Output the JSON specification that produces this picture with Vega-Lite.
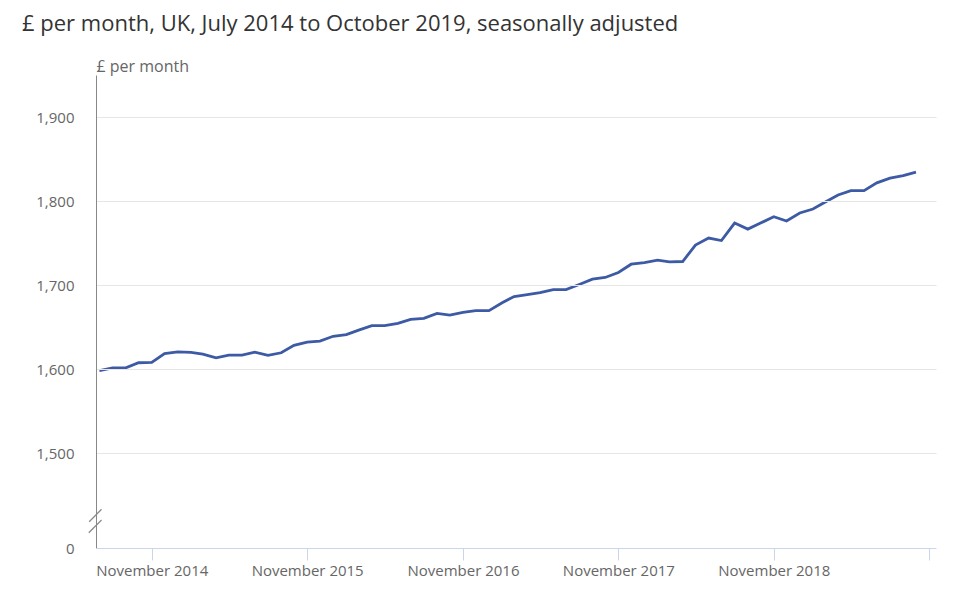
{
  "$schema": "https://vega.github.io/schema/vega-lite/v6.json",
  "autosize": {"type": "none"},
  "width": 840,
  "height": 473,
  "padding": {"left": 96, "top": 75, "right": 24, "bottom": 56},
  "background": "white",
  "title": {
    "text": "£ per month, UK, July 2014 to October 2019, seasonally adjusted",
    "anchor": "start",
    "frame": "group",
    "dx": -74,
    "offset": 22,
    "font": "Open Sans",
    "fontSize": 22,
    "fontWeight": "normal",
    "color": "#333333"
  },
  "config": {
    "view": {"stroke": null},
    "font": "Open Sans"
  },
  "datasets": {
    "earnings": [
      {"date": "2014-07-01", "value": 1598},
      {"date": "2014-08-01", "value": 1601.5},
      {"date": "2014-09-01", "value": 1601.5},
      {"date": "2014-10-01", "value": 1607.5},
      {"date": "2014-11-01", "value": 1608},
      {"date": "2014-12-01", "value": 1618.5},
      {"date": "2015-01-01", "value": 1620.5},
      {"date": "2015-02-01", "value": 1619.8},
      {"date": "2015-03-01", "value": 1617.8},
      {"date": "2015-04-01", "value": 1613.4},
      {"date": "2015-05-01", "value": 1616.6},
      {"date": "2015-06-01", "value": 1616.6},
      {"date": "2015-07-01", "value": 1620},
      {"date": "2015-08-01", "value": 1616.2},
      {"date": "2015-09-01", "value": 1619.4},
      {"date": "2015-10-01", "value": 1628.3},
      {"date": "2015-11-01", "value": 1632},
      {"date": "2015-12-01", "value": 1633.3},
      {"date": "2016-01-01", "value": 1639},
      {"date": "2016-02-01", "value": 1641},
      {"date": "2016-03-01", "value": 1646.4},
      {"date": "2016-04-01", "value": 1651.6},
      {"date": "2016-05-01", "value": 1651.6},
      {"date": "2016-06-01", "value": 1654.4},
      {"date": "2016-07-01", "value": 1659.2},
      {"date": "2016-08-01", "value": 1660.4},
      {"date": "2016-09-01", "value": 1666.3},
      {"date": "2016-10-01", "value": 1664.3},
      {"date": "2016-11-01", "value": 1667.5},
      {"date": "2016-12-01", "value": 1669.5},
      {"date": "2017-01-01", "value": 1669.5},
      {"date": "2017-02-01", "value": 1679},
      {"date": "2017-03-01", "value": 1686.3},
      {"date": "2017-04-01", "value": 1688.6},
      {"date": "2017-05-01", "value": 1691},
      {"date": "2017-06-01", "value": 1694.6},
      {"date": "2017-07-01", "value": 1694.6},
      {"date": "2017-08-01", "value": 1700.6},
      {"date": "2017-09-01", "value": 1707},
      {"date": "2017-10-01", "value": 1709},
      {"date": "2017-11-01", "value": 1715},
      {"date": "2017-12-01", "value": 1724.8},
      {"date": "2018-01-01", "value": 1726.8},
      {"date": "2018-02-01", "value": 1729.6},
      {"date": "2018-03-01", "value": 1727.6},
      {"date": "2018-04-01", "value": 1728},
      {"date": "2018-05-01", "value": 1747.5},
      {"date": "2018-06-01", "value": 1755.9},
      {"date": "2018-07-01", "value": 1753},
      {"date": "2018-08-01", "value": 1773.8},
      {"date": "2018-09-01", "value": 1766.6},
      {"date": "2018-10-01", "value": 1773.8},
      {"date": "2018-11-01", "value": 1781.3},
      {"date": "2018-12-01", "value": 1776.2},
      {"date": "2019-01-01", "value": 1785.7},
      {"date": "2019-02-01", "value": 1790.5},
      {"date": "2019-03-01", "value": 1798.5},
      {"date": "2019-04-01", "value": 1807.2},
      {"date": "2019-05-01", "value": 1812.4},
      {"date": "2019-06-01", "value": 1812.4},
      {"date": "2019-07-01", "value": 1821.6},
      {"date": "2019-08-01", "value": 1827.2},
      {"date": "2019-09-01", "value": 1830.3},
      {"date": "2019-10-01", "value": 1834.3}
    ],
    "axisbreak": [
      {"x": "2014-06-07", "x2": "2014-07-06", "y": 1418.3, "y2": 1433.1},
      {"x": "2014-06-06", "x2": "2014-07-06", "y": 1405.2, "y2": 1420.3}
    ]
  },
  "layer": [
    {
      "data": {"name": "earnings"},
      "mark": {"type": "line", "color": "#3d5aa4", "strokeWidth": 2.8, "clip": false},
      "encoding": {
        "x": {
          "field": "date",
          "type": "temporal",
          "scale": {
            "type": "utc",
            "domain": [
              {"year": 2014, "month": 6, "date": 23, "utc": true},
              {"year": 2019, "month": 11, "date": 17, "utc": true}
            ]
          },
          "axis": {
            "title": null,
            "values": [
              {"year": 2014, "month": 11, "date": 1, "utc": true},
              {"year": 2015, "month": 11, "date": 1, "utc": true},
              {"year": 2016, "month": 11, "date": 1, "utc": true},
              {"year": 2017, "month": 11, "date": 1, "utc": true},
              {"year": 2018, "month": 11, "date": 1, "utc": true},
              {"year": 2019, "month": 11, "date": 1, "utc": true}
            ],
            "labelExpr": "utcyear(datum.value) == 2019 ? '' : utcFormat(datum.value, '%B %Y')",
            "grid": false,
            "domainColor": "#ccd6eb",
            "tickColor": "#ccd6eb",
            "tickSize": 12,
            "labelFont": "Open Sans",
            "labelFontSize": 15,
            "labelColor": "#666666",
            "labelPadding": 3,
            "labelFlush": false,
            "labelOverlap": false,
            "zindex": 2
          }
        },
        "y": {
          "field": "value",
          "type": "quantitative",
          "scale": {"domain": [1387, 1950], "nice": false, "zero": false},
          "axis": {
            "title": "£ per month",
            "titleAngle": 0,
            "titleAlign": "left",
            "titleBaseline": "alphabetic",
            "titleX": 0,
            "titleY": -4,
            "titleFont": "Open Sans",
            "titleFontSize": 16,
            "titleFontWeight": "normal",
            "titleColor": "#666666",
            "values": [1387, 1500, 1600, 1700, 1800, 1900],
            "labelExpr": "datum.value < 1400 ? '0' : format(datum.value, ',')",
            "ticks": false,
            "labelPadding": 22,
            "labelFont": "Open Sans",
            "labelFontSize": 15,
            "labelColor": "#666666",
            "domainColor": "#888888",
            "gridColor": "#e6e6e6",
            "gridOpacity": {"condition": {"test": "datum.value < 1400", "value": 0}, "value": 1},
            "zindex": 1
          }
        }
      }
    },
    {
      "data": {"name": "axisbreak"},
      "mark": {"type": "rule", "color": "#888888", "strokeWidth": 1.2, "clip": false},
      "encoding": {
        "x": {"field": "x", "type": "temporal"},
        "x2": {"field": "x2"},
        "y": {"field": "y", "type": "quantitative"},
        "y2": {"field": "y2"}
      }
    }
  ]
}
